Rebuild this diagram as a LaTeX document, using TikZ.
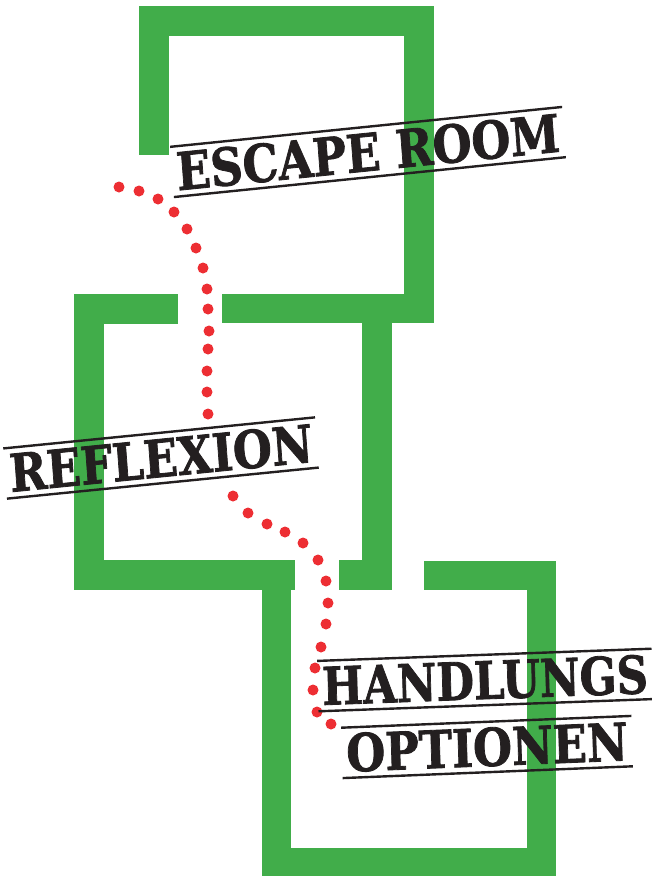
\documentclass[tikz,border=0pt]{standalone}
\usepackage{fontspec}
\newfontfamily\stampfont{DejaVu Serif}[BoldFeatures={FakeBold=1.6}]
\usetikzlibrary{positioning}

\definecolor{wallgreen}{RGB}{65,173,74}
\definecolor{trailred}{RGB}{237,46,51}
\definecolor{inkblack}{RGB}{35,31,32}

\begin{document}
\begin{tikzpicture}[
    x=1pt, y=-1pt,
    wall/.style={fill=wallgreen, draw=none},
    stamp/.style={font=\stampfont\bfseries\fontsize{52}{52}\selectfont, text=inkblack, inner xsep=5pt, inner ysep=0pt, text height=38pt, text depth=0pt, minimum height=50pt, xscale=0.86},
    stampline/.style={draw=inkblack, line width=2.4pt},
    trail/.style={fill=trailred}
]
    \useasboundingbox (0,0) rectangle (651,876);

    % room 1 (top)
    \fill[wall] (139,6) rectangle (434,36);
    \fill[wall] (139,6) rectangle (169,155);
    \fill[wall] (404,6) rectangle (434,323);
    \fill[wall] (222,294) rectangle (434,323);
    % room 2 (middle)
    \fill[wall] (74,294) rectangle (178,324);
    \fill[wall] (74,294) rectangle (104,590);
    \fill[wall] (362,294) rectangle (392,590);
    \fill[wall] (74,560) rectangle (295,590);
    \fill[wall] (339,560) rectangle (392,590);
    % room 3 (bottom)
    \fill[wall] (424,561) rectangle (556,590);
    \fill[wall] (262,561) rectangle (291,876);
    \fill[wall] (527,561) rectangle (556,876);
    \fill[wall] (262,848) rectangle (556,876);

    % dotted trail
    \foreach \p in {(119,187),(139,191),(158,199),(174,212),(187,229),(196,248),(203,268),(207,289),
                    (208,309),(209,331),(208,349),(207,371),(207,392),(208,414)}
        \fill[trail] \p circle[radius=5.5pt];
    \foreach \p in {(233,496),(248,513),(267,524),(285,532),(303,543),(318,560),(326,581),(328,603),
                    (326,624),(321,647),(315,668),(313,690),(317,712),(331,724)}
        \fill[trail] \p circle[radius=5.5pt];

    % stamps
    \node[stamp, rotate=5] (escape) at (368,152) {ESCAPE ROOM};
    \node[stamp, rotate=4.9] (reflexion) at (161,458) {REFLEXION};
    \node[stamp, rotate=1.8, xscale=0.97] (handlungs) at (485,680) {HANDLUNGS};
    \node[stamp, rotate=2] (optionen) at (487,747) {OPTIONEN};

    \foreach \n in {escape,reflexion,handlungs,optionen} {
        \draw[stampline] (\n.north west) -- (\n.north east);
        \draw[stampline] (\n.south west) -- (\n.south east);
    }
\end{tikzpicture}
\end{document}
